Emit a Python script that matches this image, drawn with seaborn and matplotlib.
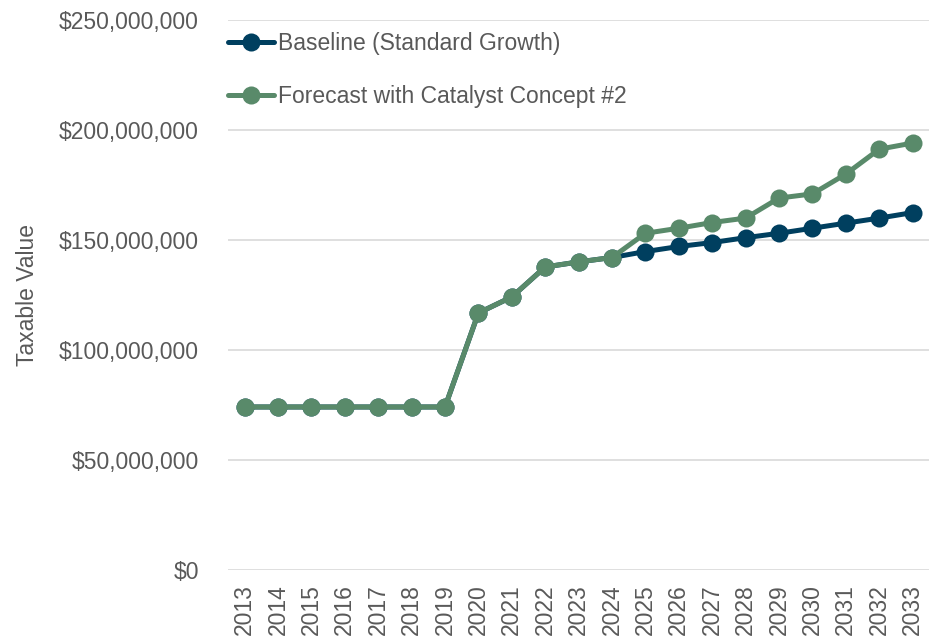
import matplotlib
matplotlib.use("Agg")
import matplotlib.pyplot as plt
import matplotlib.ticker as mticker
import seaborn as sns
import pandas as pd

years = list(range(2013, 2034))
baseline = [74.1, 74.1, 74.1, 74.1, 74.1, 74.1, 74.1, 116.8, 124.1, 137.7, 140.0,
            142.0, 144.7, 147.0, 148.8, 151.0, 153.0, 155.3, 157.6, 159.9, 162.4]
forecast = [74.1, 74.1, 74.1, 74.1, 74.1, 74.1, 74.1, 116.8, 124.1, 137.7, 140.0,
            142.0, 153.0, 155.3, 157.9, 159.9, 169.0, 170.9, 179.9, 191.2, 194.0]
series_names = ["Baseline (Standard Growth)", "Forecast with Catalyst Concept #2"]
series_colors = ["#003F5F", "#598A6A"]
y_ticks = [0, 50_000_000, 100_000_000, 150_000_000, 200_000_000, 250_000_000]

df = pd.DataFrame({
    "Year": years * 2,
    "Value": [v * 1_000_000 for v in baseline + forecast],
    "Series": [series_names[0]] * len(years) + [series_names[1]] * len(years),
})

sns.set_theme(style="white")
plt.rcParams["font.family"] = ["Liberation Sans", "DejaVu Sans"]
text_color = "#595959"
fs = 16.5

fig = plt.figure(figsize=(9.34, 6.37), dpi=100)
ax = fig.add_axes([0.244, 0.105, 0.751, 0.864])

sns.lineplot(data=df, x="Year", y="Value", hue="Series", hue_order=series_names,
             palette=series_colors, marker="o", markersize=13, markeredgewidth=0,
             linewidth=3.6, ax=ax)

ax.set_xlim(2012.5, 2033.5)
ax.set_ylim(0, 250_000_000)
ax.set_xticks(years)
ax.set_xticklabels([str(y) for y in years], rotation=90)
ax.set_yticks(y_ticks)
ax.yaxis.set_major_formatter(mticker.FuncFormatter(lambda v, p: f"${v:,.0f}"))
ax.tick_params(axis="both", colors=text_color, labelsize=fs, length=0)
ax.tick_params(axis="y", pad=21)
ax.tick_params(axis="x", pad=10)
ax.grid(axis="y", color="#D9D9D9", linewidth=1.2)
ax.set_axisbelow(True)
for s in ax.spines.values():
    s.set_visible(False)

ax.set_xlabel("")
ax.set_ylabel("Taxable Value", color=text_color, fontsize=fs, labelpad=14)

leg = ax.legend(loc="upper left", frameon=False, fontsize=fs, handlelength=2.0,
                handletextpad=0.17, labelspacing=1.32, borderaxespad=0.0, borderpad=0.0,
                bbox_to_anchor=(0.0, 0.978))
for t in leg.get_texts():
    t.set_color(text_color)

fig.savefig("out.png", dpi=100)
